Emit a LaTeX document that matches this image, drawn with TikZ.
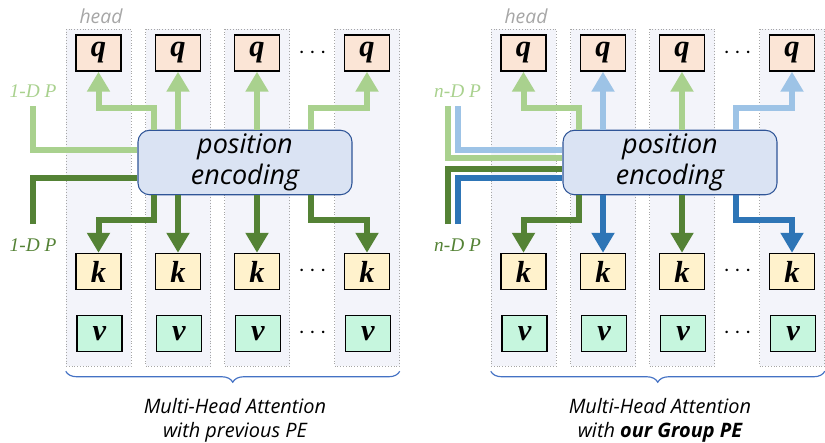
\documentclass[tikz,border=0pt]{standalone}
\usepackage{fontspec}
\setmainfont{Liberation Serif}
\setsansfont{Open Sans}
\usepackage{xcolor}
\usetikzlibrary{positioning, calc, arrows.meta, decorations.pathreplacing}
\definecolor{PELightGreen}{HTML}{A9D18E}
\definecolor{PEDarkGreen}{HTML}{548235}
\definecolor{PELightBlue}{HTML}{9DC3E6}
\definecolor{PEDarkBlue}{HTML}{2E75B6}
\definecolor{QFill}{HTML}{FBE5D6}
\definecolor{KFill}{HTML}{FFF2CC}
\definecolor{VFill}{HTML}{C6F6DE}
\definecolor{HeadFill}{HTML}{F3F4FA}
\definecolor{EncFill}{HTML}{DAE3F3}
\definecolor{EncBorder}{HTML}{2F5597}
\definecolor{BraceBlue}{HTML}{4472C4}
\tikzset{
    headcol/.style={
        draw=gray!70, dotted, fill=HeadFill, minimum width=1.95cm, minimum height=10.11cm
    },
    vecbox/.style={
        draw, line width=1.2pt, minimum width=1.35cm, minimum height=1.08cm, inner sep=0pt,
        font=\fontsize{26}{28}\selectfont\bfseries\itshape
    },
    encbox/.style={
        draw=EncBorder, line width=0.9pt, fill=EncFill, rounded corners=0.35cm,
        minimum width=6.42cm, minimum height=1.89cm, align=center,
        font=\sffamily\itshape\fontsize{23}{26}\selectfont
    },
    pearrow/.style={
        line width=0.18cm, -{Triangle[width=0.66cm,length=0.6cm]}
    },
    peline/.style={line width=0.18cm},
    dimlabel/.style={font=\fontsize{16.5}{20}\selectfont\itshape},
    headlabel/.style={font=\sffamily\itshape\fontsize{16.5}{18}\selectfont, text=gray!70},
    hdots/.style={font=\fontsize{20}{24}\selectfont},
    caption/.style={font=\sffamily\itshape\fontsize{17}{20.5}\selectfont, align=center}
}
\begin{document}
\begin{tikzpicture}[x=0.03cm, y=-0.03cm]
    \useasboundingbox (0,0) rectangle (825,442);
    % --- two panels: previous PE (left) and group PE (right) ---
    \foreach \s/\dx/\lc/\dc in {l/0/PELightGreen/PEDarkGreen, r/425/PELightBlue/PEDarkBlue} {
        \foreach \i/\cx in {1/98.5, 2/178, 3/257, 4/367} {
            \node[headcol] (col\s\i) at (\cx+\dx, 197.5) {};
            \node[vecbox, fill=QFill] (q\s\i) at (\cx+\dx, 53) {q};
            \node[vecbox, fill=KFill] (k\s\i) at (\cx+\dx, 271.5) {k};
            \node[vecbox, fill=VFill] (v\s\i) at (\cx+\dx+1, 333.5) {v};
        }
        \node[headlabel] (head\s) at (101+\dx, 16) {head};
        \node[hdots] (dq\s) at (312.5+\dx, 53) {$\cdots$};
        \node[hdots] (dk\s) at (312.5+\dx, 271.5) {$\cdots$};
        \node[hdots] (dv\s) at (312.5+\dx, 333.5) {$\cdots$};
        \node[encbox] (enc\s) at (245+\dx, 162.5) {position\\encoding};
        \coordinate (qbend\s) at (0, 108);
        \coordinate (kbend\s) at (0, 220);
        % query side
        \draw[pearrow, PELightGreen] ([xshift=0.51cm]enc\s.north west) |- (qbend\s -| q\s1) -- (q\s1.south);
        \draw[pearrow, \lc] (enc\s.north -| q\s2) -- (q\s2.south);
        \draw[pearrow, PELightGreen] (enc\s.north -| q\s3) -- (q\s3.south);
        \draw[pearrow, \lc] ([xshift=-1.26cm]enc\s.north east) |- (qbend\s -| q\s4) -- (q\s4.south);
        % key side
        \draw[pearrow, PEDarkGreen] ([xshift=0.51cm]enc\s.south west) |- (kbend\s -| k\s1) -- (k\s1.north);
        \draw[pearrow, \dc] (enc\s.south -| k\s2) -- (k\s2.north);
        \draw[pearrow, PEDarkGreen] (enc\s.south -| k\s3) -- (k\s3.north);
        \draw[pearrow, \dc] ([xshift=-1.26cm]enc\s.south east) |- (kbend\s -| k\s4) -- (k\s4.north);
        % brace
        \draw[decorate, decoration={brace, mirror, amplitude=0.33cm}, BraceBlue, line width=1pt]
            ([yshift=-0.15cm]col\s1.south west) -- ([yshift=-0.15cm]col\s4.south east);
    }
    % --- inputs, left panel ---
    \coordinate (intopl) at (33, 106);
    \coordinate (inbotl) at (33, 224);
    \draw[peline, PELightGreen] (intopl) |- ([yshift=0.375cm]encl.west);
    \draw[peline, PEDarkGreen] (inbotl) |- ([yshift=-0.465cm]encl.west);
    \node[dimlabel, PELightGreen] (dimtopl) at (33, 91) {1-D P};
    \node[dimlabel, PEDarkGreen] (dimbotl) at (33, 245) {1-D P};
    % --- inputs, right panel ---
    \coordinate (intopro) at (447.5, 106);
    \coordinate (intopri) at (458, 106);
    \coordinate (inbotro) at (447.5, 224);
    \coordinate (inbotri) at (458, 224);
    \draw[peline, PELightBlue] (intopri) |- ([yshift=0.375cm]encr.west);
    \draw[peline, PELightGreen] (intopro) |- ([yshift=0.135cm]encr.west);
    \draw[peline, PEDarkGreen] (inbotro) |- ([yshift=-0.195cm]encr.west);
    \draw[peline, PEDarkBlue] (inbotri) |- ([yshift=-0.465cm]encr.west);
    \node[dimlabel, PELightGreen] (dimtopr) at (457.5, 91) {n-D P};
    \node[dimlabel, PEDarkGreen] (dimbotr) at (457.5, 245) {n-D P};
    % --- captions ---
    \node[caption] (capl) at (235, 420) {Multi-Head Attention\\with previous PE};
    \node[caption] (capr) at (660, 420) {Multi-Head Attention\\with \textbf{our Group PE}};
\end{tikzpicture}
\end{document}
